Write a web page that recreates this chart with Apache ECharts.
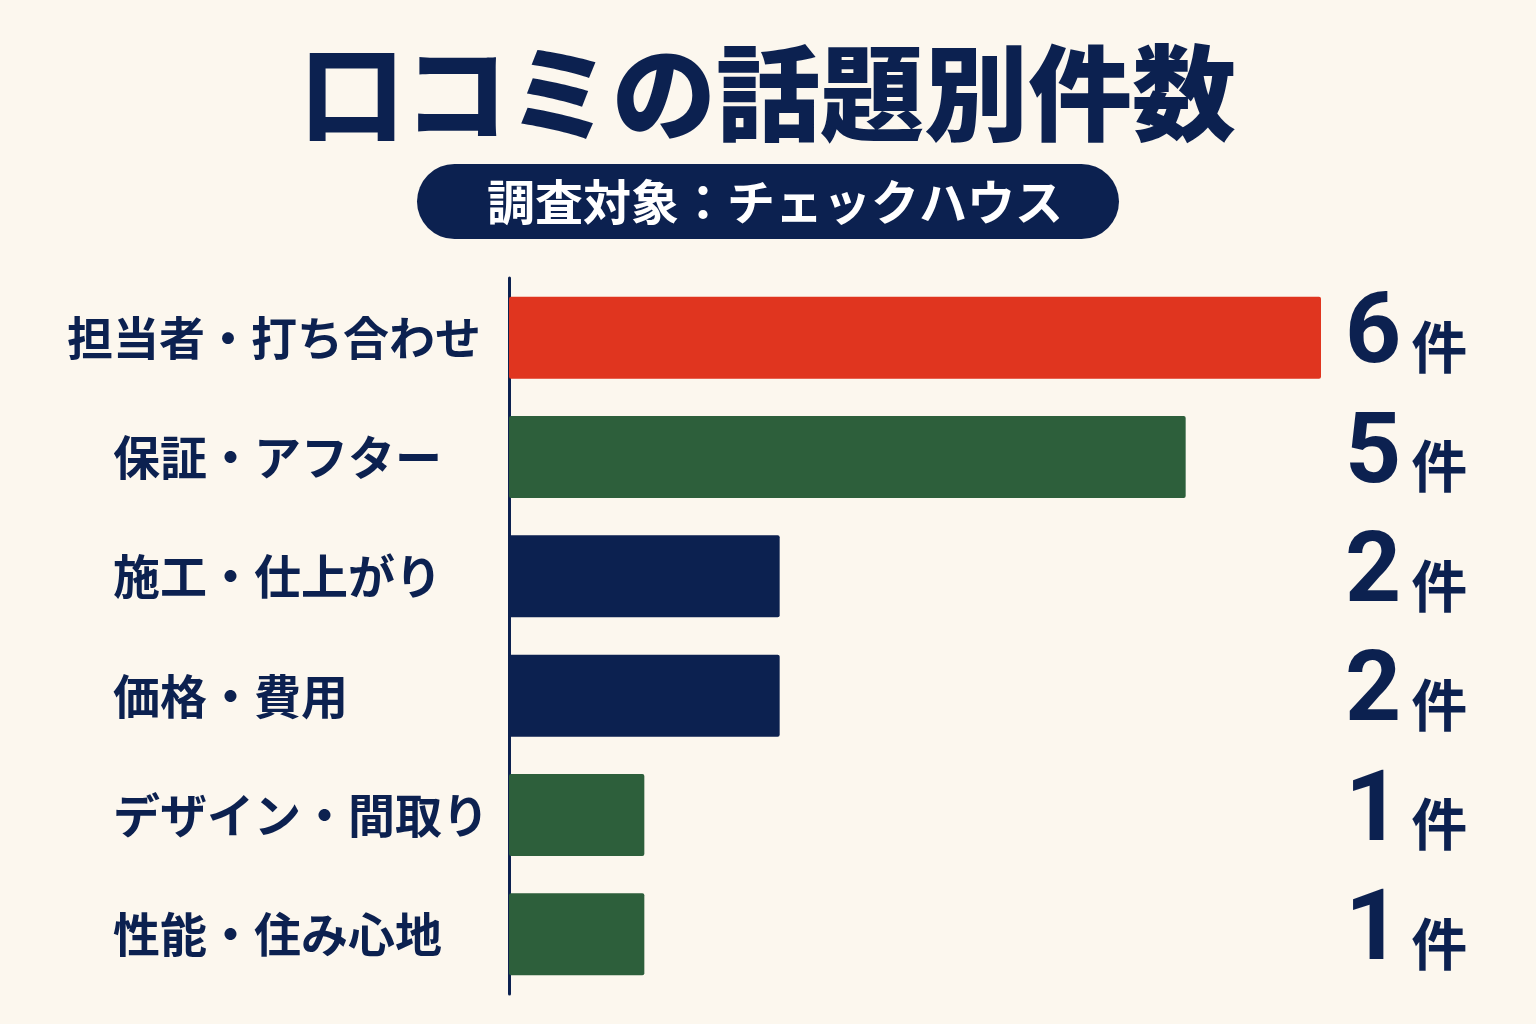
<!DOCTYPE html>
<html>
<head>
<meta charset="utf-8">
<script src="https://cdn.jsdelivr.net/npm/echarts@6/dist/echarts.min.js"></script>
<style>
  html, body { margin: 0; padding: 0; background: #fcf7ee; }
  #chart { width: 1536px; height: 1024px; }
</style>
</head>
<body>
<div id="chart"></div>
<script>
const topics = ['担当者・打ち合わせ', '保証・アフター', '施工・仕上がり', '価格・費用', 'デザイン・間取り', '性能・住み心地'];
const counts = [6, 5, 2, 2, 1, 1];
const barColors = ['#e0351f', '#2d5f3b', '#0c2150', '#0c2150', '#2d5f3b', '#2d5f3b'];
const unit = '件';

const navy = '#0c2150';
const font = '"Noto Sans CJK JP", "Noto Sans", sans-serif';

const chart = echarts.init(document.getElementById('chart'));

chart.setOption({
  backgroundColor: '#fcf7ee',
  title: {
    text: '口コミの話題別件数',
    left: 'center',
    top: 36,
    textStyle: { fontFamily: font, fontSize: 104, fontWeight: 900, color: navy }
  },
  graphic: [
    {
      type: 'group',
      left: 'center',
      top: 164,
      children: [
        {
          type: 'rect',
          shape: { x: 0, y: 0, width: 702, height: 75, r: 37.5 },
          style: { fill: navy }
        },
        {
          type: 'text',
          x: 358,
          y: 38,
          style: {
            text: '調査対象：チェックハウス',
            fontFamily: font,
            fontSize: 48,
            fontWeight: 'bold',
            fill: '#ffffff',
            align: 'center',
            verticalAlign: 'middle'
          }
        }
      ]
    }
  ],
  grid: { left: 509, right: 215, top: 278, bottom: 30 },
  xAxis: {
    type: 'value',
    min: 0,
    max: 6,
    show: false
  },
  yAxis: [
    {
      type: 'category',
      data: topics,
      inverse: true,
      axisLine: { lineStyle: { color: navy, width: 3 } },
      axisTick: { show: false },
      axisLabel: {
        align: 'left',
        margin: 442,
        formatter: (v, i) => (i === 0 ? '{w|' + v + '}' : '{n|' + v + '}'),
        rich: {
          w: { fontFamily: font, fontSize: 46, fontWeight: 'bold', color: navy },
          n: { fontFamily: font, fontSize: 47, fontWeight: 'bold', color: navy, padding: [0, 0, 0, 46] }
        }
      }
    },
    {
      type: 'category',
      data: topics,
      inverse: true,
      position: 'right',
      axisLine: { show: false },
      axisTick: { show: false },
      axisLabel: {
        align: 'left',
        margin: 24,
        formatter: (v, i) => '{num|' + counts[i] + '}{u|' + unit + '}',
        rich: {
          num: { fontFamily: 'Roboto, sans-serif', fontSize: 98, fontWeight: 'bold', color: navy, padding: [0, 10, 0, 0] },
          u: { fontFamily: font, fontSize: 56, fontWeight: 'bold', color: navy, padding: [18, 0, 0, 0] }
        }
      }
    }
  ],
  series: [
    {
      type: 'bar',
      data: counts.map((v, i) => ({ value: v, itemStyle: { color: barColors[i] } })),
      barWidth: 82,
      itemStyle: { borderRadius: 2 },
      silent: true
    }
  ]
});

window.addEventListener('resize', () => chart.resize());
</script>
</body>
</html>
